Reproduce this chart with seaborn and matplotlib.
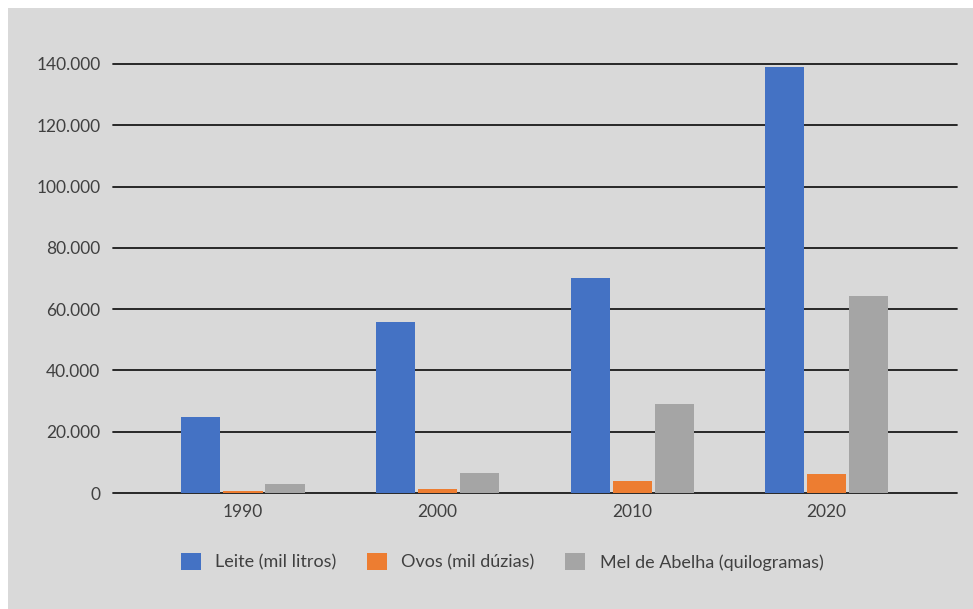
import matplotlib
matplotlib.use("Agg")
import matplotlib.pyplot as plt
import seaborn as sns
import pandas as pd
from matplotlib.ticker import FuncFormatter, MultipleLocator
from matplotlib.patches import Rectangle

years = ["1990", "2000", "2010", "2020"]
series_names = ["Leite (mil litros)", "Ovos (mil dúzias)", "Mel de Abelha (quilogramas)"]
leite = [24800, 55800, 70100, 139000]
ovos = [650, 1300, 3900, 6200]
mel = [2900, 6500, 29000, 64300]
colors = ["#4472C4", "#ED7D31", "#A5A5A5"]

rows = []
for name, vals in zip(series_names, [leite, ovos, mel]):
    for y, v in zip(years, vals):
        rows.append({"Ano": y, "Série": name, "Valor": v})
df = pd.DataFrame(rows)

sns.set_theme(style="white")
plt.rcParams["font.family"] = ["Lato", "DejaVu Sans"]

W, H = 973, 609
fig = plt.figure(figsize=(W / 100, H / 100), dpi=100, facecolor="white")
bg = "#D9D9D9"
fig.patches.append(Rectangle((8 / W, 0), 1 - 8 / W, 1 - 8 / H, transform=fig.transFigure,
                             facecolor=bg, edgecolor="none", zorder=-10))

ax = fig.add_axes([113 / W, (H - 493) / H, (957 - 113) / W, (493 - 64) / H])
ax.patch.set_alpha(0)

sns.barplot(data=df, x="Ano", y="Valor", hue="Série", hue_order=series_names,
            palette=colors, width=0.648, gap=0.07, ax=ax, legend=True,
            saturation=1, zorder=3, edgecolor="none", linewidth=0)

ax.set_ylim(0, 140000)
ax.set_xlim(-0.668, 3.67)
ax.yaxis.set_major_locator(MultipleLocator(20000))
ax.yaxis.set_major_formatter(FuncFormatter(lambda v, p: f"{int(v):,}".replace(",", ".")))
ax.grid(axis="y", color="#1a1a1a", linewidth=1.3, zorder=1)
for gl in ax.get_ygridlines():
    gl.set_clip_on(False)
ax.set_axisbelow(True)
for s in ax.spines.values():
    s.set_visible(False)
ax.tick_params(axis="both", length=0, labelsize=12.5, colors="#404040")
ax.tick_params(axis="y", pad=9)
ax.tick_params(axis="x", pad=8)
ax.set_xlabel("")
ax.set_ylabel("")

handles, labels = ax.get_legend_handles_labels()
ax.get_legend().remove()
leg = fig.legend(handles, labels, loc="center", bbox_to_anchor=(0.516, 1 - 562 / H), ncol=3,
                 frameon=False, fontsize=13, labelcolor="#404040", handlelength=1.1,
                 handleheight=1.1, handletextpad=0.8, columnspacing=1.7)
for h in leg.legend_handles:
    h.set_edgecolor("none")

fig.savefig("out.png", dpi=100, facecolor="white")
